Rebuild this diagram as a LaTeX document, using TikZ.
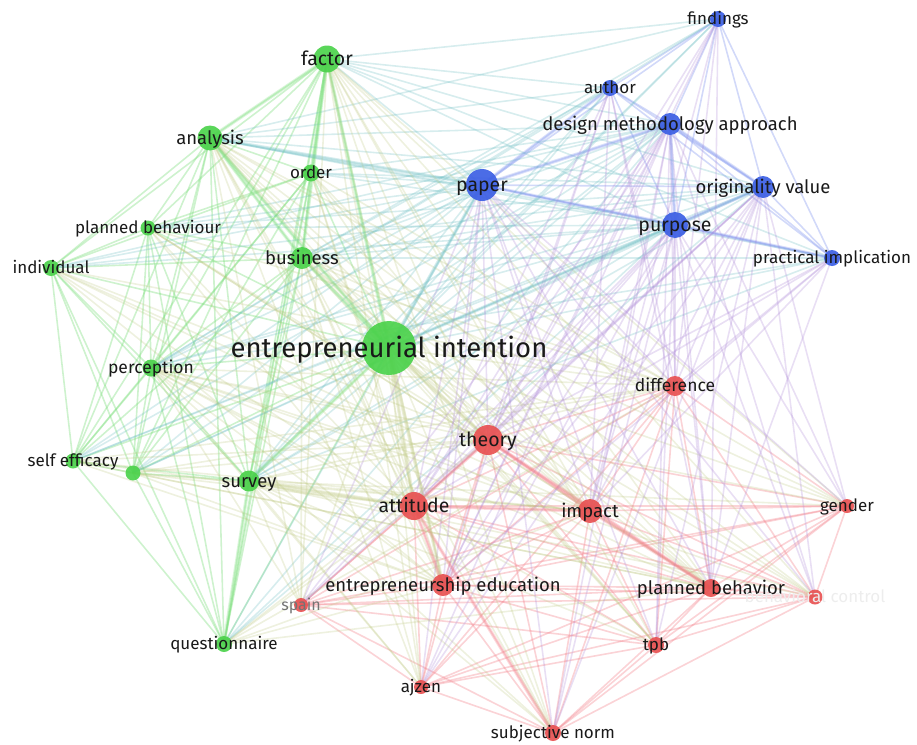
\documentclass[tikz,border=0pt]{standalone}
\usepackage{fontspec}
\setmainfont{Fira Sans}
\pgfdeclarelayer{edges}
\pgfdeclarelayer{labels}
\pgfsetlayers{edges,main,labels}
\definecolor{gN}{RGB}{76,210,76}
\definecolor{bN}{RGB}{60,95,228}
\definecolor{rN}{RGB}{232,82,82}
\definecolor{gE}{RGB}{125,222,125}
\definecolor{bE}{RGB}{130,150,238}
\definecolor{rE}{RGB}{242,125,135}
\definecolor{gbE}{RGB}{110,190,195}
\definecolor{grE}{RGB}{190,200,130}
\definecolor{brE}{RGB}{175,140,215}
\definecolor{txt}{RGB}{25,25,25}
\tikzset{
  kwdot/.style={circle,inner sep=0pt,draw=none,fill opacity=.92},
  kwlbl/.style={inner sep=0pt,text=txt,anchor=base},
  eg/.style={draw=gE,line width=1.6pt,draw opacity=.38},
  eb/.style={draw=bE,line width=1.6pt,draw opacity=.36},
  er/.style={draw=rE,line width=1.6pt,draw opacity=.34},
  egb/.style={draw=gbE,line width=1.6pt,draw opacity=.28},
  egr/.style={draw=grE,line width=1.6pt,draw opacity=.26},
  ebr/.style={draw=brE,line width=1.6pt,draw opacity=.28},
  thick/.style={line width=3.5pt,draw opacity=.28}
}
\newcommand\kw[7]{%
  \node[kwdot,minimum size=#4pt,fill=#5] (#1) at (#2,#3) {};
  \begin{pgfonlayer}{labels}
  \node[kwlbl,yshift=-#6*0.34pt,font=\fontsize{#6}{#6}\selectfont] (#1-l) at (#2,#3) {#7};
  \end{pgfonlayer}}
\begin{document}
\begin{tikzpicture}[x=1pt,y=-1pt]
\useasboundingbox (0,0) rectangle (917,744);
% green cluster
\kw{fa}{327}{59}{27}{gN}{19.5}{factor}
\kw{an}{210}{138}{25}{gN}{18.5}{analysis}
\kw{or}{311}{173}{17}{gN}{17}{order}
\kw{pbh}{148}{228}{15}{gN}{17}{planned behaviour}
\kw{ind}{51}{268}{16}{gN}{17}{individual}
\kw{bu}{302}{258}{22}{gN}{18.5}{business}
\kw{ei}{389}{348}{54}{gN}{27.5}{entrepreneurial intention}
\kw{pe}{151}{368}{17}{gN}{17.5}{perception}
\kw{se}{73}{461}{15}{gN}{17}{self efficacy}
\kw{xa}{133}{473}{15}{gN}{17}{}
\kw{su}{249}{481}{21}{gN}{18.5}{survey}
\kw{qu}{224}{644}{16}{gN}{17}{questionnaire}
% blue cluster
\kw{pa}{482}{185}{32}{bN}{19.5}{paper}
\kw{pu}{675}{225}{26}{bN}{19.5}{purpose}
\kw{ov}{763}{187}{22}{bN}{18.5}{originality value}
\kw{dm}{670}{124}{22}{bN}{18.5}{design methodology approach}
\kw{au}{610}{88}{16}{bN}{17}{author}
\kw{fi}{718}{19}{16}{bN}{17}{findings}
\kw{pi}{832}{258}{16}{bN}{17}{practical implication}
% red cluster
\kw{th}{488}{440}{30}{rN}{19.5}{theory}
\kw{att}{414}{506}{28}{rN}{19.5}{attitude}
\kw{im}{590}{511}{24}{rN}{18.5}{impact}
\kw{ee}{443}{585}{22}{rN}{18.5}{entrepreneurship education}
\kw{di}{675}{386}{20}{rN}{17.5}{difference}
\kw{pbr}{711}{588}{18}{rN}{18.5}{planned behavior}
\kw{ge}{847}{506}{14}{rN}{17}{gender}
\kw{bc}{815}{597}{15}{rN}{17}{\textcolor{black!7}{behavioral control}}
\kw{tp}{656}{645}{16}{rN}{17}{tpb}
\kw{sp}{301}{605}{14}{rN}{16}{\textcolor{black!55}{spain}}
\kw{aj}{421}{687}{14}{rN}{17}{ajzen}
\kw{sn}{553}{733}{16}{rN}{17}{subjective norm}
\def\G{fa,an,bu,ei,pe,su,or,pbh,ind,se,xa,qu}
\def\Ga{fa,an,bu,ei,pe,su}
\def\Gb{or,pbh,ind,se,xa,qu}
\def\B{pa,pu,ov,dm,au,fi,pi}
\def\Ba{pa,pu,ov,dm}
\def\Bb{au,fi,pi}
\def\R{th,att,im,ee,di,pbr,ge,bc,tp,sp,aj,sn}
\def\Ra{th,att,im,ee,di,pbr}
\def\Rb{ge,bc,tp,sp,aj,sn}
\begin{pgfonlayer}{edges}
\foreach \a [count=\i] in \G {\foreach \b [count=\j] in \G {\ifnum\i<\j \draw[eg] (\a.center) -- (\b.center);\fi}}
\foreach \a [count=\i] in \B {\foreach \b [count=\j] in \B {\ifnum\i<\j \draw[eb] (\a.center) -- (\b.center);\fi}}
\foreach \a [count=\i] in \R {\foreach \b [count=\j] in \R {\ifnum\i<\j \draw[er] (\a.center) -- (\b.center);\fi}}
\foreach \a in \Ga {\foreach \b in \B {\draw[egb] (\a.center) -- (\b.center);}}
\foreach \a in \Gb {\foreach \b in \Ba {\draw[egb] (\a.center) -- (\b.center);}}
\foreach \a in \Ga {\foreach \b in \R {\draw[egr] (\a.center) -- (\b.center);}}
\foreach \a in \Gb {\foreach \b in \Ra {\draw[egr] (\a.center) -- (\b.center);}}
\foreach \a in \Ba {\foreach \b in \R {\draw[ebr] (\a.center) -- (\b.center);}}
\foreach \a in \Bb {\foreach \b in \Ra {\draw[ebr] (\a.center) -- (\b.center);}}
% stronger links
\foreach \a/\b in {ei/fa,ei/bu,ei/an,ei/su,fa/an,fa/bu,an/bu,su/qu,fa/or}
  {\draw[eg,thick] (\a.center) -- (\b.center);}
\foreach \a/\b in {pa/pu,pa/dm,dm/ov,pu/pi,pu/ov,dm/pu,pa/au}
  {\draw[eb,thick] (\a.center) -- (\b.center);}
\foreach \a/\b in {att/th,att/ee,th/im,im/pbr,att/im,th/pbr,att/sn}
  {\draw[er,thick] (\a.center) -- (\b.center);}
\foreach \a/\b in {ei/att,ei/th,ei/ee,su/att}
  {\draw[egr,thick] (\a.center) -- (\b.center);}
\foreach \a/\b in {ei/pa,an/pa,ei/pu}
  {\draw[egb,thick] (\a.center) -- (\b.center);}
\end{pgfonlayer}
\end{tikzpicture}
\end{document}
